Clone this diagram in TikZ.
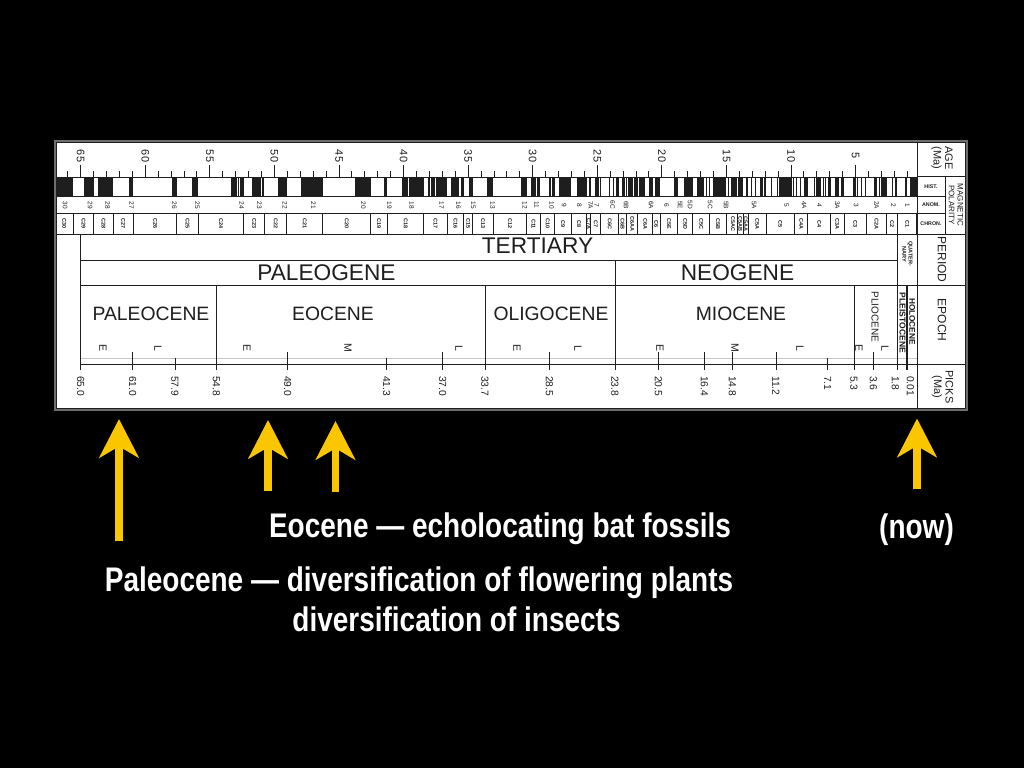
\documentclass[tikz,border=0pt]{standalone}
\usepackage{fontspec}
\usepackage{graphicx}
\setmainfont{Liberation Sans}
\newfontfamily\narrowb{Liberation Sans}[FakeStretch=0.82]
\usetikzlibrary{arrows.meta}
\definecolor{ink}{HTML}{1E1E1E}
\definecolor{arrowy}{RGB}{250,198,0}
\definecolor{framec}{HTML}{6E6E6E}
\begin{document}
\begin{tikzpicture}[x=0.75pt,y=-0.75pt,
  declare function={ax(\a)=920.2-12.915*\a;},
  ln/.style={draw=ink,line width=0.75pt},
  rot/.style={rotate=-90,inner sep=0pt,text=ink},
  agelab/.style={rot,font=\fontsize{8.2}{8.5}\selectfont},
  anlab/.style={rot,font=\fontsize{4.9}{5}\selectfont},
  chlab/.style={rot,font=\bfseries\fontsize{4.1}{4.5}\selectfont},
  picklab/.style={rot,anchor=west,font=\fontsize{7.7}{8}\selectfont},
  sublab/.style={rot,font=\fontsize{7.9}{8}\selectfont},
  perlab/.style={inner sep=0pt,text=ink,font=\fontsize{17}{18}\selectfont},
  eplab/.style={inner sep=0pt,text=ink,font=\fontsize{14.5}{15}\selectfont},
  rhead/.style={rot,align=center,font=\fontsize{9}{9.5}\selectfont},
  rmid/.style={rot,align=center,font=\fontsize{8.2}{8.6}\selectfont},
  rsmall/.style={rot,align=center,font=\fontsize{6}{6.5}\selectfont},
  tinyb/.style={inner sep=0pt,text=ink,font=\bfseries\fontsize{4}{4.5}\selectfont},
  caption/.style={text=white,inner sep=0pt,anchor=base,font=\narrowb\bfseries\fontsize{25.6}{28}\selectfont},
  yarrow/.style={draw=arrowy,line width=5.8pt,-{Stealth[length=29pt,width=29.5pt,inset=8.5pt]}}
]
% background
\fill[black] (0,0) rectangle (1024,768);
\useasboundingbox (0,0) rectangle (1024,768);
% chart panel
\fill[white] (55,141) rectangle (967,410);

% ---------- age scale ----------
\foreach \a in {1,...,66} \draw[ln] ({ax(\a)},171) -- ({ax(\a)},177);
\foreach \a in {5,10,...,65} \draw[ln] ({ax(\a)},165) -- ({ax(\a)},177);
\foreach \a [count=\i] in {5,10,...,65} \node[agelab] (age\i) at ({ax(\a)},156) {\a};

% ---------- polarity bar ----------
\begin{scope}
\clip (55,170) rectangle (917,200);
\foreach \y/\o in {0/0.780, 0.990/1.070, 1.201/1.211, 1.770/1.950, 2.140/2.150, 2.581/3.040, 3.110/3.220, 3.330/3.580, 4.180/4.290, 4.480/4.620, 4.800/4.890, 4.980/5.230, 5.894/6.137, 6.269/6.567, 6.935/7.091, 7.135/7.170, 7.341/7.375, 7.432/7.562, 7.650/8.072, 8.225/8.257, 8.699/9.025, 9.230/9.308, 9.580/9.642, 9.740/9.880, 9.920/10.949, 11.052/11.099, 11.476/11.531, 11.935/12.078, 12.184/12.401, 12.775/12.819, 12.991/13.139, 13.302/13.510, 13.703/14.076, 14.178/14.612, 14.800/14.888, 15.034/15.155, 15.161/16.014, 16.293/16.327, 16.488/16.556, 16.726/17.277, 17.615/18.281, 18.781/19.048, 20.131/20.518, 20.725/20.996, 21.320/21.768, 21.859/22.151, 22.248/22.459, 22.493/22.588, 22.750/22.804, 22.858/23.069, 23.353/23.535, 23.677/23.800, 23.999/24.118, 24.730/24.781, 24.835/25.183, 25.496/25.648, 25.823/25.951, 25.992/26.554, 27.027/27.972, 28.283/28.512, 28.578/28.745, 29.401/29.662, 29.765/30.098, 30.479/30.939, 33.058/33.545, 34.655/34.940, 35.343/35.526, 35.685/36.341, 36.618/37.473, 37.604/37.848, 37.920/38.113, 38.426/39.552, 39.631/40.130, 41.257/41.521, 42.536/43.789, 46.264/47.906, 49.037/49.714, 50.778/50.946, 51.047/51.743, 52.364/52.663, 52.757/52.801, 52.903/53.347, 55.904/56.391, 57.554/57.911, 60.920/61.276, 62.499/63.634, 63.976/64.745, 65.578/67.610}
  \fill[ink] ({ax(\o)},177) rectangle ({ax(\y)},196);
\end{scope}
\draw[ln] (55,177) rectangle (917,196);

% ---------- anomaly numbers ----------
\foreach \x/\l [count=\i] in {65/30, 90/29, 107.7/28, 131.7/27, 174.3/26, 197.3/25, 241.7/24, 259.3/23, 285/22, 313.3/21, 363.3/20, 389.3/19, 411.7/18, 441.7/17, 458.3/16, 473.3/15, 492.7/13, 525/12, 536.7/11, 551.7/10, 564/9, 579.3/8, 590.7/7A, 596.7/7, 612.7/6C, 626/6B, 651/6A, 666.7/6, 680/5E, 690/5D, 710/5C, 726/5B, 754/5A, 786.7/5, 804/4A, 819.3/4, 837.3/3A, 856/3, 876.7/2A, 893.3/2, 907.3/1}
  \node[anlab] (an\i) at (\x,205) {\l};

% ---------- chrons ----------
\draw[ln] (55,213.5) -- (945,213.5);
\foreach \o/\y/\l [count=\i] in {66.99/65.578/C30, 65.578/63.976/C29, 63.976/62.499/C28, 62.499/60.920/C27, 60.920/57.554/C26, 57.554/55.904/C25, 55.904/52.364/C24, 52.364/50.778/C23, 50.778/49.037/C22, 49.037/46.264/C21, 46.264/42.536/C20, 42.536/41.257/C19, 41.257/38.426/C18, 38.426/36.618/C17, 36.618/35.343/C16, 35.343/34.655/C15, 34.655/33.058/C13, 33.058/30.479/C12, 30.479/29.401/C11, 29.401/28.283/C10, 28.283/27.027/C9, 27.027/25.823/C8, 25.823/25.496/C7A, 25.496/24.730/C7, 24.730/23.353/C6C, 23.353/22.750/C6B, 22.750/21.859/C6AA, 21.859/20.725/C6A, 20.725/20.131/C6, 20.131/18.781/C5E, 18.781/17.615/C5D, 17.615/16.293/C5C, 16.293/15.034/C5B, 14.800/14.178/C5AC, 14.178/13.703/C5AB, 13.703/13.302/C5AA, 13.302/11.935/C5A, 11.935/9.740/C5, 9.740/8.699/C4A, 8.699/6.935/C4, 6.935/5.894/C3A, 5.894/4.180/C3, 4.180/2.581/C2A, 2.581/1.770/C2, 1.770/0.25/C1}
{
  \draw[ln] ({ax(\y)},213.5) -- ({ax(\y)},234);
  \node[chlab] (ch\i) at ({(ax(\o)+ax(\y))/2},224) {\l};
}
\draw[ln] ({ax(15.034)},213.5) -- ({ax(15.034)},234);

% ---------- main grid lines ----------
\draw[ln] (55,234) -- (967,234);
\draw[ln] (80.7,260) -- (897.7,260);
\draw[ln] (80.7,285) -- (967,285);
\draw[ln] (80.7,364) -- (967,364);
\draw[draw=gray!45,line width=0.5pt] (80.7,358) -- (917,358);
\draw[ln] (917,141) -- (917,410);
\draw[ln] (917,176.5) -- (967,176.5);
\draw[ln] (945,176.5) -- (945,234);
\draw[ln] (917,196) -- (945,196);
\draw[ln] (897.7,285) -- (897.7,234);
\draw[line width=1.6pt,draw=ink] (907.3,285) -- (907.3,370);

% ---------- picks ----------
\foreach \x/\lx/\l/\t [count=\i] in {80.7/80.7/65.0/234, 132.7/132.7/61.0/352, 175/175/57.9/358, 216.3/216.3/54.8/285, 287.7/287.7/49.0/352, 386.7/386.7/41.3/358, 442.7/442.7/37.0/352, 485/485/33.7/285, 549.3/549.3/28.5/352, 615/615/23.8/260, 658.3/658.3/20.5/352, 704.3/704.3/16.4/352, 732.3/732.3/14.8/352, 776/776/11.2/352, 827.7/827.7/7.1/358, 854/854/5.3/285, 873.3/873.3/3.6/352, 897.7/895.5/1.8/285, 907.3/910.5/0.01/370}
{
  \draw[ln] (\x,\t) -- (\x,370);
  \node[picklab] (pk\i) at (\lx,376) {\l};
}

% ---------- period / epoch labels ----------
\node[perlab] (tertiary) at (537.5,246) {TERTIARY};
\node[perlab] (paleogene) at (326.5,273) {PALEOGENE};
\node[perlab] (neogene) at (737.5,273) {NEOGENE};
\node[rot,align=center,font=\bfseries\fontsize{4.2}{4.7}\selectfont] (quat) at (907.5,254) {QUATER-\\NARY};
\node[eplab] (paleocene) at (151,314) {PALEOCENE};
\node[eplab] (eocene) at (333,314) {EOCENE};
\node[eplab] (oligocene) at (551,314) {OLIGOCENE};
\node[eplab] (miocene) at (741,314) {MIOCENE};
\node[rot,font=\fontsize{7.5}{8}\selectfont] (pliocene) at (875,317) {PLIOCENE};
\node[rot,font=\bfseries\fontsize{6.4}{7}\selectfont] (pleisto) at (902.5,323) {PLEISTOCENE};
\node[rot,font=\bfseries\fontsize{6.2}{7}\selectfont] (holo) at (912.3,321.5) {HOLOCENE};
\foreach \x/\l [count=\i] in {103/E, 158/L, 247/E, 348/M, 459/L, 517/E, 578/L, 660/E, 735/M, 800/L, 859/E, 885/L}
  \node[sublab] (sub\i) at (\x,348) {\l};

% ---------- right column ----------
\node[rmid] (agehd) at (942,158) {AGE\\(Ma)};
\node[tinyb] (hist) at (931,186.5) {HIST.};
\node[tinyb] (anom) at (931,205) {ANOM.};
\node[tinyb] (chron) at (931,224) {CHRON.};
\node[rsmall] (magpol) at (956,205) {MAGNETIC\\POLARITY};
\node[rhead] (period) at (942,259.5) {PERIOD};
\node[rhead] (epoch) at (942,320) {EPOCH};
\node[rmid] (picks) at (942.5,387) {PICKS\\(Ma)};

% ---------- frame ----------
\draw[draw=framec,line width=1.6pt] (55,141) rectangle (967,410);
\draw[ln] (56.6,142.6) rectangle (965.4,408.4);

% ---------- arrows ----------
\coordinate (a1b) at (119,541);
\coordinate (a1t) at (119,419);
\coordinate (a2b) at (268,491);
\coordinate (a2t) at (268,420);
\coordinate (a3b) at (335.5,492);
\coordinate (a3t) at (335.5,421);
\coordinate (a4b) at (917,489);
\coordinate (a4t) at (917,418.5);
\draw[yarrow] (a1b) -- (a1t);
\draw[yarrow] (a2b) -- (a2t);
\draw[yarrow] (a3b) -- (a3t);
\draw[yarrow] (a4b) -- (a4t);

% ---------- captions ----------
\node[caption] (eoc) at (500,537) {Eocene — echolocating bat fossils};
\node[caption] (now) at (916.5,538) {(now)};
\node[caption] (pal) at (419,591) {Paleocene — diversification of flowering plants};
\node[caption] (ins) at (456.5,631) {diversification of insects};
\end{tikzpicture}
\end{document}
